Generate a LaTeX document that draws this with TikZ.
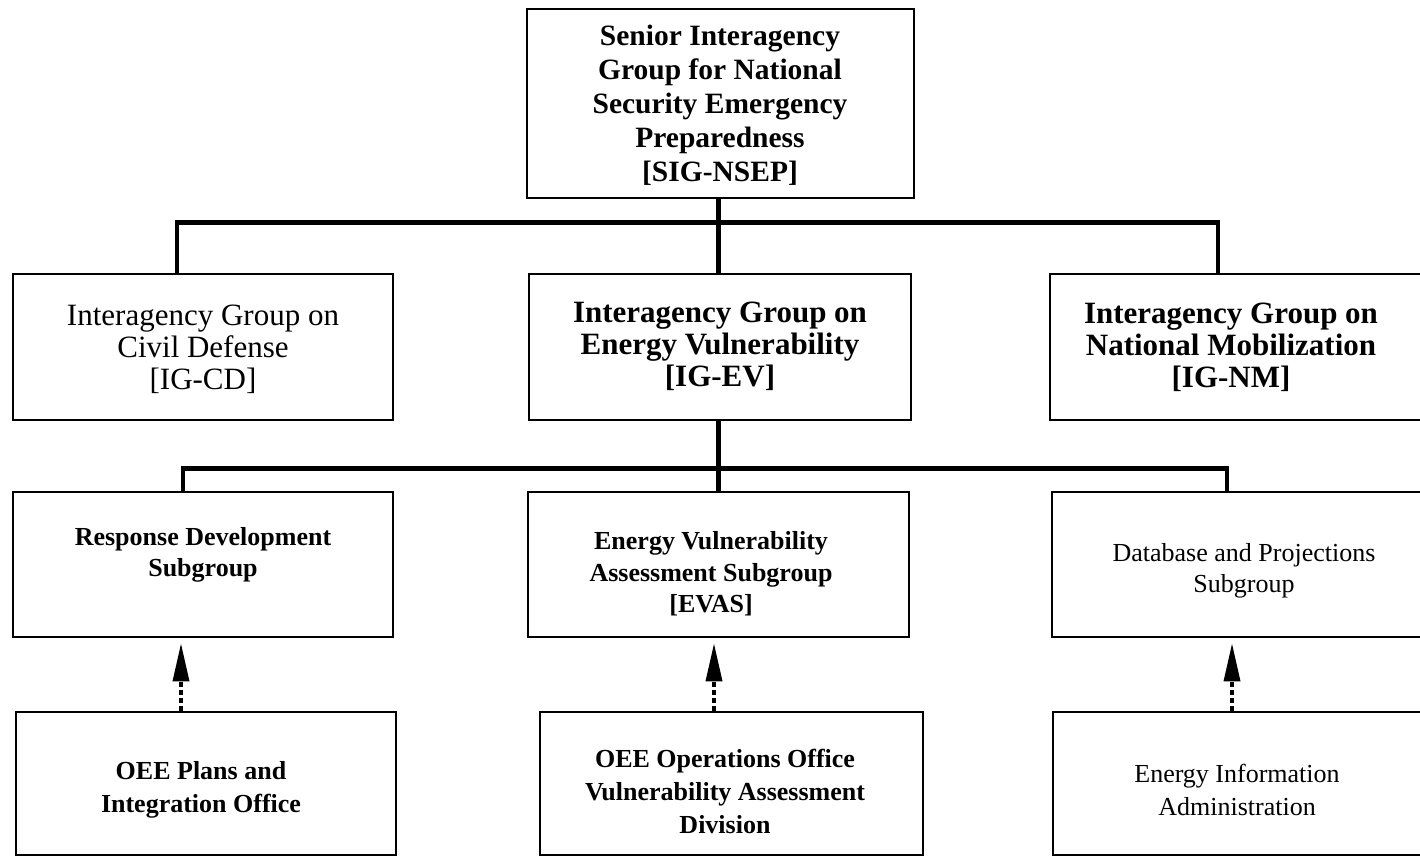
\documentclass[tikz,border=0pt]{standalone}
\usepackage{fontspec}
\setmainfont{Liberation Serif}
\usetikzlibrary{arrows.meta,calc}

\begin{document}
\begin{tikzpicture}[x=1pt,y=-1pt,
  box/.style={draw=black,line width=2.6pt,rectangle,inner sep=0pt},
  bus/.style={line width=4.3pt,line join=miter},
  feed/.style={line width=3.5pt,dash pattern=on 5pt off 3pt,
    -{Triangle[length=38pt,width=16pt]},shorten >=5pt},
  txt/.style={align=center,inner sep=0pt},
  topfont/.style={font=\fontsize{29.5}{34}\selectfont\bfseries},
  midfont/.style={font=\fontsize{31}{32}\selectfont},
  midbold/.style={font=\fontsize{31}{32}\selectfont\bfseries},
  subfont/.style={font=\fontsize{26}{31.5}\selectfont},
  subbold/.style={font=\fontsize{26}{31.5}\selectfont\bfseries},
  offfont/.style={font=\fontsize{26}{33}\selectfont},
  offbold/.style={font=\fontsize{26}{33}\selectfont\bfseries}]

\useasboundingbox (0,0) rectangle (1420,857);
\fill[white] (0,0) rectangle (1420,857);
\clip (0,0) rectangle (1420,857);

% boxes
\node[box,minimum width=387pt,minimum height=189pt] (top) at (720.5,103.5) {};

\node[box,minimum width=380pt,minimum height=146pt] (cd) at (203,347) {};
\node[box,minimum width=382pt,minimum height=146pt] (ev) at (720,347) {};
\node[box,minimum width=380pt,minimum height=146pt] (nm) at (1240,347) {};

\node[box,minimum width=380pt,minimum height=145pt] (rd) at (203,564.5) {};
\node[box,minimum width=381pt,minimum height=145pt] (evas) at (718.5,564.5) {};
\node[box,minimum width=380pt,minimum height=145pt] (dp) at (1242,564.5) {};

\node[box,minimum width=380pt,minimum height=143pt] (pio) at (206,783.5) {};
\node[box,minimum width=383pt,minimum height=143pt] (ops) at (731.5,783.5) {};
\node[box,minimum width=380pt,minimum height=143pt] (eia) at (1243,783.5) {};

% texts
\node[txt,topfont] (ttop) at (720,105) {Senior Interagency\\Group for National\\Security Emergency\\Preparedness\\{[SIG-NSEP]}};

\node[txt,midfont] (tcd) at (203,349) {Interagency Group on\\Civil Defense\\{[IG-CD]}};
\node[txt,midbold] (tev) at (720,346) {Interagency Group on\\Energy Vulnerability\\{[IG-EV]}};
\node[txt,midbold] (tnm) at (1231,347) {Interagency Group on\\National Mobilization\\{[IG-NM]}};

\node[txt,subbold] (trd) at (203,555) {Response Development\\Subgroup};
\node[txt,subbold] (tevas) at (711,574) {Energy Vulnerability\\Assessment Subgroup\\{[EVAS]}};
\node[txt,subfont] (tdp) at (1244,571) {Database and Projections\\Subgroup};

\node[txt,offbold] (tpio) at (201,790) {OEE Plans and\\Integration Office};
\node[txt,offbold] (tops) at (725,791) {OEE Operations Office\\Vulnerability Assessment\\Division};
\node[txt,offfont] (teia) at (1237,790) {Energy Information\\Administration};

% reporting lines
\coordinate (spine) at (718.5,0);
\coordinate (b1l) at (177,222.5);
\coordinate (b1r) at (1218,222.5);
\draw[bus] (top.south -| spine) -- (ev.north -| spine);
\draw[bus] (cd.north -| b1l) -- (b1l) -- (b1r) -- (nm.north -| b1r);

\coordinate (b2l) at (183,468.5);
\coordinate (b2r) at (1227,468.5);
\draw[bus] (ev.south -| spine) -- (evas.north -| spine);
\draw[bus] (rd.north -| b2l) -- (b2l) -- (b2r) -- (dp.north -| b2r);

% support arrows
\coordinate (a1) at (181,0);
\coordinate (a2) at (714,0);
\coordinate (a3) at (1232,0);
\draw[feed] (pio.north -| a1) -- (rd.south -| a1);
\draw[feed] (ops.north -| a2) -- (evas.south -| a2);
\draw[feed] (eia.north -| a3) -- (dp.south -| a3);
\end{tikzpicture}
\end{document}
